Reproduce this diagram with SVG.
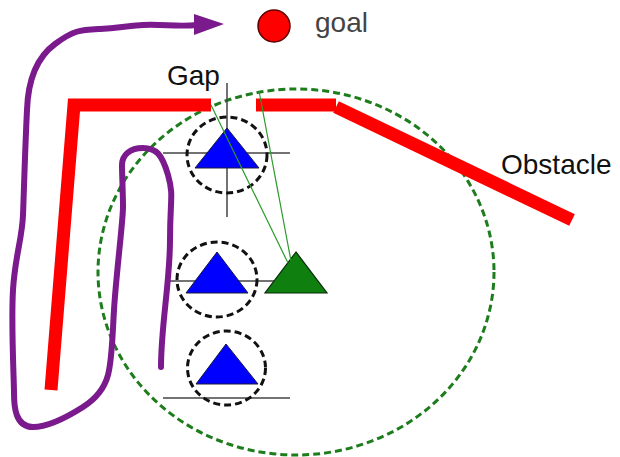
<svg xmlns="http://www.w3.org/2000/svg" width="620" height="457" viewBox="0 0 620 457">
<style>
.lbl{font-family:"Liberation Sans",Arial,sans-serif;font-size:28px;fill:#111}
.wall{stroke:#ff0000;stroke-width:13;fill:none}
.ring{fill:none;stroke:#111;stroke-width:3;stroke-dasharray:7 4}
.axis{stroke:#444;stroke-width:1.5;fill:none}
.robot{fill:#0000ff;stroke:#1a1a3a;stroke-width:1}
.sight{stroke:#2a9a2a;stroke-width:1.2;fill:none}
</style>
<rect width="620" height="457" fill="#ffffff"/>
<g id="sensor-range">
<ellipse cx="296" cy="272" rx="198" ry="183" fill="none" stroke="#1d7d1d" stroke-width="3" stroke-dasharray="7 4"/>
</g>
<g id="obstacle">
<path class="wall" d="M51,390 L74,105 L211,105" stroke-linejoin="miter"/>
<line class="wall" x1="256" y1="105" x2="336" y2="105"/>
<line class="wall" x1="336" y1="107" x2="572" y2="220"/>
<text class="lbl" x="501" y="174">Obstacle</text>
</g>
<g id="gap">
<text class="lbl" x="167" y="85">Gap</text>
</g>
<g id="goal">
<circle cx="274" cy="26" r="16" fill="#ff0000" stroke="#5a0000" stroke-width="1.5"/>
<text class="lbl" x="315" y="32" style="fill:#444">goal</text>
</g>
<g id="robot-1">
<line class="axis" x1="163" y1="153" x2="290" y2="153"/>
<line class="axis" x1="227" y1="83" x2="227" y2="217"/>
<ellipse class="ring" cx="227" cy="155" rx="40" ry="38"/>
<polygon class="robot" points="227,128 195,168 259,168"/>
</g>
<g id="robot-2">
<line class="axis" x1="165" y1="281" x2="274" y2="281"/>
<ellipse class="ring" cx="217" cy="279.5" rx="40" ry="37.5"/>
<polygon class="robot" points="217,252 186,293 248,293"/>
</g>
<g id="robot-3">
<line class="axis" x1="163" y1="398" x2="290" y2="398"/>
<ellipse class="ring" cx="226.5" cy="368" rx="39" ry="37"/>
<polygon class="robot" points="226,344 196,384 258,384"/>
</g>
<g id="green-robot">
<polygon points="296,252 265,293 327,293" fill="#0f7f0f" stroke="#0a2a0a" stroke-width="1.2"/>
</g>
<g id="connectors">
<line class="sight" x1="211" y1="105" x2="288" y2="263"/>
<line class="sight" x1="259" y1="91" x2="291" y2="261"/>
<path d="M161,367 C161,325 170,282 170,240 S174,196 168,175 S156,148 143,148 S122,155 122,165 S123,193 123,207 S116,276 114,310 S112,360 108,375 S94,400 83,407 S51,427 33,427 S14,406 14,393 S11,324 13,290 S22,240 23,215 S25,150 27,110 C28,80 36,58 55,44 S80,30 100,29 S124,26 143,25 S178,27 197,25" fill="none" stroke="#7a1a8c" stroke-width="6" stroke-linecap="round" stroke-linejoin="round"/>
<polygon points="194,14 224,24 194,35" fill="#7a1a8c"/>
</g>
</svg>
